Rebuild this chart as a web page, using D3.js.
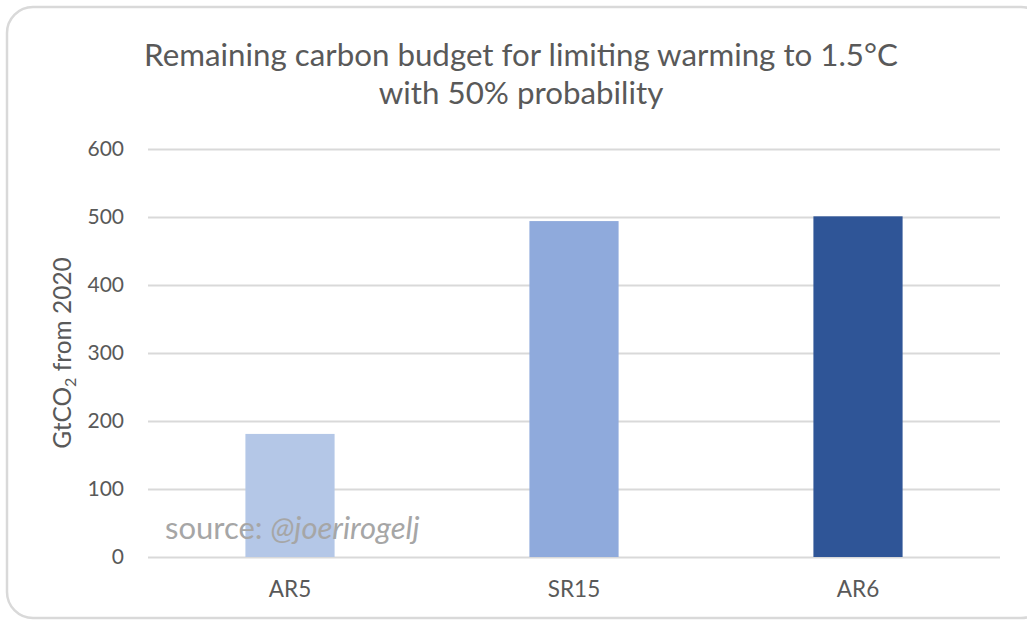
<!DOCTYPE html>
<html>
<head>
<meta charset="utf-8">
<script src="https://cdn.jsdelivr.net/npm/d3@7"></script>
<style>
  html, body { margin: 0; padding: 0; background: #fff; }
  svg { display: block; }
</style>
</head>
<body>
<div id="vis"></div>
<script>
// Remaining carbon budget chart
const categories = ["AR5", "SR15", "AR6"];
const budgets = [181, 494, 501];
const barColors = ["#b4c7e7", "#8faadc", "#2f5597"];
const yTicks = [0, 100, 200, 300, 400, 500, 600];
const titleLines = ["Remaining carbon budget for limiting warming to 1.5°C", "with 50% probability"];

const width = 1027;
const height = 620;
const margin = { top: 149, right: 27, bottom: 63, left: 148 };
const font = "Lato, 'Open Sans', sans-serif";
const textColor = "#595959";

const svg = d3.select("#vis")
  .append("svg")
  .attr("width", width)
  .attr("height", height);

// Frame
svg.append("rect")
  .attr("x", 7).attr("y", 7)
  .attr("width", 1040).attr("height", 611)
  .attr("rx", 26)
  .attr("fill", "#fff")
  .attr("stroke", "#d9d9d9")
  .attr("stroke-width", 2.5);

const xScale = d3.scaleBand()
  .domain(categories)
  .range([margin.left, width - margin.right])
  .paddingInner(0.686)
  .paddingOuter(0.343);

const yScale = d3.scaleLinear()
  .domain([0, 600])
  .range([height - margin.bottom, margin.top]);

// Grid
svg.append("g")
  .attr("transform", `translate(${margin.left},0)`)
  .call(d3.axisLeft(yScale).tickValues(yTicks).tickSize(-(width - margin.right - margin.left)).tickFormat(""))
  .call(g => g.select(".domain").remove())
  .call(g => g.selectAll("line").attr("stroke", "#d9d9d9").attr("stroke-width", 2));

// Y tick labels
svg.append("g")
  .attr("transform", `translate(124,0)`)
  .call(d3.axisLeft(yScale).tickValues(yTicks).tickSize(0).tickPadding(0))
  .call(g => g.select(".domain").remove())
  .call(g => g.selectAll("text")
    .attr("fill", textColor)
    .attr("font-family", font)
    .attr("font-size", "21px"));

// Bars
svg.selectAll("rect.bar")
  .data(categories)
  .enter()
  .append("rect")
  .attr("class", "bar")
  .attr("x", d => xScale(d))
  .attr("width", xScale.bandwidth())
  .attr("y", (d, i) => yScale(budgets[i]))
  .attr("height", (d, i) => yScale(0) - yScale(budgets[i]))
  .attr("fill", (d, i) => barColors[i]);

// X labels
svg.append("g")
  .attr("transform", `translate(0,${yScale(0)})`)
  .call(d3.axisBottom(xScale).tickSize(0).tickPadding(24))
  .call(g => g.select(".domain").remove())
  .call(g => g.selectAll("text")
    .attr("fill", textColor)
    .attr("font-family", font)
    .attr("font-size", "22.5px"));

// Y axis title
const yTitle = svg.append("text")
  .attr("transform", `translate(71,${(yScale(0) + yScale(600)) / 2}) rotate(-90)`)
  .attr("text-anchor", "middle")
  .attr("fill", textColor)
  .attr("font-family", font)
  .attr("font-size", "24.5px");
yTitle.append("tspan").text("GtCO");
yTitle.append("tspan").attr("font-size", "16px").attr("dy", 5).text("2");
yTitle.append("tspan").attr("dy", -5).text(" from 2020");

// Title
const titleY = [66, 104];
titleLines.forEach((line, i) => {
  svg.append("text")
    .attr("x", 521)
    .attr("y", titleY[i])
    .attr("text-anchor", "middle")
    .attr("fill", textColor)
    .attr("font-family", font)
    .attr("font-size", "31.3px")
    .text(line);
});

// Source note
const src = svg.append("text")
  .attr("x", 165)
  .attr("y", 539)
  .attr("fill", "#a6a6a6")
  .attr("font-family", font)
  .attr("font-size", "31px");
src.append("tspan").text("source: ");
src.append("tspan").attr("font-style", "italic").text("@joerirogelj");
</script>
</body>
</html>
